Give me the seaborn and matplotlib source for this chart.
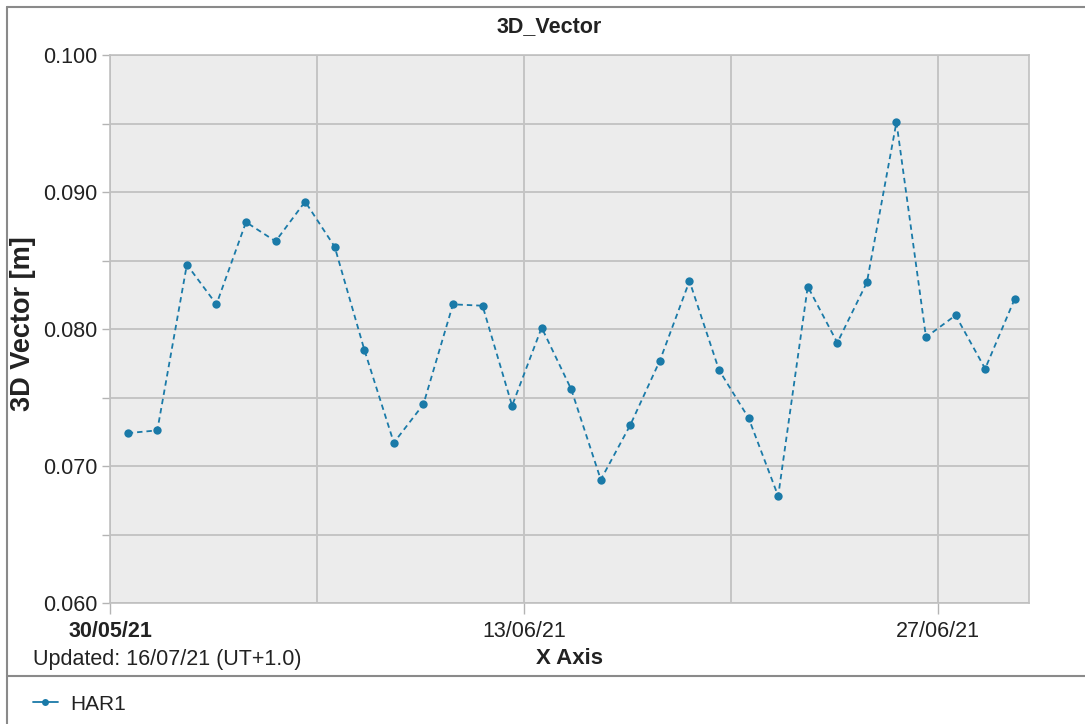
import pandas as pd
import matplotlib
matplotlib.use("Agg")
import matplotlib.pyplot as plt
import matplotlib.dates as mdates
from matplotlib.lines import Line2D
from matplotlib.ticker import MultipleLocator, FormatStrFormatter, FixedLocator
import seaborn as sns

sns.set_style("white")
plt.rcParams['font.family'] = ['Liberation Sans', 'DejaVu Sans']

# data (one sample per day)
dates = pd.date_range("2021-05-30 14:24", periods=31, freq="D")
values = [0.0724, 0.0726, 0.0847, 0.0818, 0.0878, 0.0864, 0.0893, 0.0860,
          0.0785, 0.0717, 0.0745, 0.0818, 0.0817, 0.0744, 0.0801, 0.0756,
          0.0690, 0.0730, 0.0777, 0.0835, 0.0770, 0.0735, 0.0678, 0.0831,
          0.0790, 0.0834, 0.0951, 0.0794, 0.0810, 0.0771, 0.0822]
series_name = "HAR1"
major_dates = ["2021-05-30", "2021-06-13", "2021-06-27"]
minor_dates = ["2021-06-06", "2021-06-20"]
title = "3D_Vector"
x_label = "X Axis"
y_label = "3D Vector [m]"
footer = "Updated: 16/07/21 (UT+1.0)"

df = pd.DataFrame({"date": dates, "value": values})

W, H = 1085, 724
fig = plt.figure(figsize=(W / 100, H / 100), dpi=100)
ax = fig.add_axes([110 / W, 1 - 603 / H, (1029 - 110) / W, (603 - 55) / H])

line_color = "#1a7aa8"
sns.lineplot(data=df, x="date", y="value", ax=ax, color=line_color,
             marker="o", markersize=6, markeredgewidth=0,
             linestyle=(0, (3, 2.2)), linewidth=1.3, legend=False)

ax.set_facecolor("#ececec")
ax.set_xlim(pd.Timestamp("2021-05-30"), pd.Timestamp("2021-06-30 02:00"))
ax.set_ylim(0.060, 0.100)

ax.yaxis.set_major_locator(MultipleLocator(0.010))
ax.yaxis.set_minor_locator(MultipleLocator(0.005))
ax.yaxis.set_major_formatter(FormatStrFormatter("%.3f"))

ax.xaxis.set_major_locator(FixedLocator(mdates.date2num(pd.to_datetime(major_dates))))
ax.xaxis.set_minor_locator(FixedLocator(mdates.date2num(pd.to_datetime(minor_dates))))
ax.xaxis.set_major_formatter(mdates.DateFormatter("%d/%m/%y"))

ax.grid(True, which="both", color="#c4c4c4", linewidth=1.4)
ax.set_axisbelow(True)

ax.tick_params(axis="y", which="both", length=6, width=1, color="#b4b4b4",
               labelsize=15.5, labelcolor="#222222", pad=3, left=True)
ax.tick_params(axis="x", which="major", length=8, width=1, color="#b4b4b4",
               labelsize=15.5, labelcolor="#222222", pad=5, bottom=True)
ax.tick_params(axis="x", which="minor", length=0)
fig.canvas.draw()
for lab in ax.get_xticklabels()[:1]:
    lab.set_fontweight("bold")

for s in ax.spines.values():
    s.set_color("#c0c0c0")
    s.set_linewidth(1.2)

ax.set_xlabel(x_label, fontsize=16, fontweight="bold", color="#222222", labelpad=4)
ax.set_ylabel("")
fig.text(23 / W, 1 - 324 / H, y_label, rotation=90, fontsize=19.5, fontweight="bold",
         color="#222222", ha="center", va="center")
fig.text(549 / W, 1 - 27 / H, title, fontsize=15.5, fontweight="bold",
         color="#222222", ha="center", va="center")
fig.text(33 / W, 1 - 660 / H, footer, fontsize=15.5, color="#222222",
         ha="left", va="center")

# outer frame and legend separator
frame_kw = dict(color="#8a8a8a", linewidth=1.5, transform=fig.transFigure)
fig.add_artist(Line2D([7 / W, 7 / W], [0, 1 - 7 / H], **frame_kw))
fig.add_artist(Line2D([7 / W, 1], [1 - 7 / H, 1 - 7 / H], **frame_kw))
fig.add_artist(Line2D([7 / W, 1], [1 - 676 / H, 1 - 676 / H], **frame_kw))

handle = Line2D([], [], color=line_color, linewidth=1.3, marker="o",
                markersize=5, markeredgewidth=0)
fig.legend([handle], [series_name], loc="center left", bbox_to_anchor=(14 / W, 1 - 704 / H),
           frameon=False, fontsize=15, handlelength=1.2, handletextpad=0.6,
           labelcolor="#222222")

fig.savefig("out.png", dpi=100)
